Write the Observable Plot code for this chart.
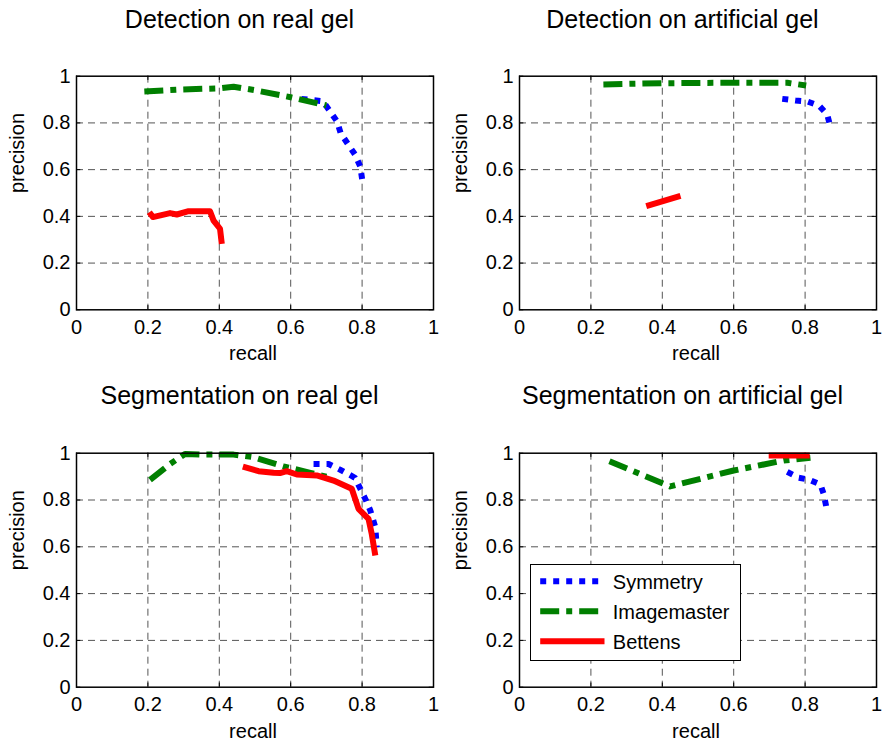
<!DOCTYPE html>
<html><head><meta charset="utf-8">
<script src="https://cdn.jsdelivr.net/npm/d3@7"></script>
<script src="https://cdn.jsdelivr.net/npm/@observablehq/plot@0.6"></script>
<style>
body{margin:0;background:#fff;}
#chart{position:relative;width:883px;height:742px;font-family:"Liberation Sans",Arial,Helvetica,sans-serif;background:#fff;}
#legend{position:absolute;left:530px;top:564px;width:211px;height:97px;box-sizing:border-box;border:1.5px solid #000;background:#fff;}
#legend svg{display:block;}
</style></head><body><div id="chart"></div>
<script>
// ---------- data ----------
const series = ["Symmetry", "Imagemaster", "Bettens"];
const seriesColors = ["#0000ff", "#007f00", "#ff0000"];
const seriesDash = ["6,7", "19,7,6,7", null];
const panelTitles = ["Detection on real gel", "Detection on artificial gel", "Segmentation on real gel", "Segmentation on artificial gel"];
const xLabel = "recall";
const yLabel = "precision";
const axisTicks = [0, 0.2, 0.4, 0.6, 0.8, 1];
const tickLabels = ["0", "0.2", "0.4", "0.6", "0.8", "1"];
const gridTicks = [0.2, 0.4, 0.6, 0.8];

// Detection on real gel
const detRealSymRecall = [0.63, 0.69, 0.71, 0.73, 0.74, 0.76, 0.78, 0.795, 0.80];
const detRealSymPrecision = [0.903, 0.893, 0.85, 0.806, 0.756, 0.71, 0.665, 0.613, 0.56];
const detRealImgRecall = [0.19, 0.29, 0.40, 0.44, 0.50, 0.60, 0.70];
const detRealImgPrecision = [0.935, 0.943, 0.948, 0.955, 0.94, 0.91, 0.875];
const detRealBetRecall = [0.204, 0.214, 0.262, 0.281, 0.314, 0.374, 0.384, 0.402, 0.407];
const detRealBetPrecision = [0.418, 0.397, 0.414, 0.408, 0.422, 0.422, 0.382, 0.347, 0.282];

// Detection on artificial gel
const detArtSymRecall = [0.736, 0.773, 0.806, 0.839, 0.862, 0.871];
const detArtSymPrecision = [0.903, 0.896, 0.892, 0.874, 0.836, 0.782];
const detArtImgRecall = [0.235, 0.40, 0.60, 0.75, 0.803];
const detArtImgPrecision = [0.965, 0.97, 0.972, 0.972, 0.96];
const detArtBetRecall = [0.355, 0.451];
const detArtBetPrecision = [0.444, 0.488];

// Segmentation on real gel
const segRealSymRecall = [0.664, 0.706, 0.738, 0.78, 0.795, 0.811, 0.823, 0.837, 0.841];
const segRealSymPrecision = [0.954, 0.954, 0.93, 0.895, 0.848, 0.798, 0.755, 0.684, 0.598];
const segRealImgRecall = [0.206, 0.262, 0.304, 0.346, 0.44, 0.496, 0.58, 0.655, 0.70];
const segRealImgPrecision = [0.886, 0.954, 0.997, 0.994, 0.994, 0.983, 0.944, 0.916, 0.90];
const segRealBetRecall = [0.466, 0.51, 0.552, 0.57, 0.589, 0.617, 0.673, 0.72, 0.771, 0.79, 0.818, 0.827, 0.837];
const segRealBetPrecision = [0.943, 0.923, 0.916, 0.915, 0.923, 0.909, 0.905, 0.883, 0.848, 0.762, 0.719, 0.655, 0.563];

// Segmentation on artificial gel
const segArtSymRecall = [0.75, 0.782, 0.81, 0.843, 0.852, 0.86];
const segArtSymPrecision = [0.92, 0.895, 0.887, 0.866, 0.826, 0.766];
const segArtImgRecall = [0.252, 0.422, 0.45, 0.60, 0.74, 0.815];
const segArtImgPrecision = [0.966, 0.858, 0.869, 0.926, 0.969, 0.98];
const segArtBetRecall = [0.698, 0.813];
const segArtBetPrecision = [0.99, 0.99];

// ---------- build ----------
const rows = (r, p) => d3.zip(r, p).map(([recall, precision]) => ({recall, precision}));
const panelData = [
  [rows(detRealSymRecall, detRealSymPrecision), rows(detRealImgRecall, detRealImgPrecision), rows(detRealBetRecall, detRealBetPrecision)],
  [rows(detArtSymRecall, detArtSymPrecision), rows(detArtImgRecall, detArtImgPrecision), rows(detArtBetRecall, detArtBetPrecision)],
  [rows(segRealSymRecall, segRealSymPrecision), rows(segRealImgRecall, segRealImgPrecision), rows(segRealBetRecall, segRealBetPrecision)],
  [rows(segArtSymRecall, segArtSymPrecision), rows(segArtImgRecall, segArtImgPrecision), rows(segArtBetRecall, segArtBetPrecision)]
];

const layout = [
  {left: 0,   top: 0,   width: 441, mL: 76, mR: 8, mT: 75.7, mB: 61.7, tdy: -47.7},
  {left: 441, top: 0,   width: 442, mL: 78, mR: 7, mT: 75.7, mB: 61.7, tdy: -47.7},
  {left: 0,   top: 371, width: 441, mL: 76, mR: 8, mT: 81.7, mB: 55.3, tdy: -49.4},
  {left: 441, top: 371, width: 442, mL: 78, mR: 7, mT: 81.7, mB: 55.3, tdy: -49.4}
];

const FONT = "Liberation Sans, Arial, Helvetica, sans-serif";
const chart = document.getElementById("chart");

layout.forEach((L, k) => {
  const lineMarks = panelData[k].map((data, s) => Plot.line(data, {
    x: "recall", y: "precision",
    stroke: seriesColors[s], strokeWidth: 6,
    strokeDasharray: seriesDash[s] ?? undefined,
    strokeLinecap: "butt", strokeLinejoin: "round"
  }));
  const svg = Plot.plot({
    width: L.width, height: 371,
    marginLeft: L.mL, marginRight: L.mR, marginTop: L.mT, marginBottom: L.mB,
    x: {domain: [0, 1]}, y: {domain: [0, 1]},
    style: {fontFamily: FONT, background: "transparent", color: "#000"},
    marks: [
      Plot.gridX(gridTicks, {stroke: "#555", strokeOpacity: 1, strokeWidth: 1, strokeDasharray: "7,5"}),
      Plot.gridY(gridTicks, {stroke: "#555", strokeOpacity: 1, strokeWidth: 1, strokeDasharray: "7,5"}),
      Plot.ruleX(axisTicks, {x: d => d, y1: 0, y2: 0.018, stroke: "#000"}),
      Plot.ruleX(axisTicks, {x: d => d, y1: 0.982, y2: 1, stroke: "#000"}),
      Plot.ruleY(axisTicks, {y: d => d, x1: 0, x2: 0.012, stroke: "#000"}),
      Plot.ruleY(axisTicks, {y: d => d, x1: 0.988, x2: 1, stroke: "#000"}),
      ...lineMarks,
      Plot.frame({stroke: "#000", strokeWidth: 1.5}),
      Plot.axisX(axisTicks, {tickSize: 0, tickPadding: 10, fontSize: 20, label: null, tickFormat: (d, i) => tickLabels[axisTicks.indexOf(d)], fill: "#000"}),
      Plot.axisY(axisTicks, {tickSize: 0, tickPadding: 6, fontSize: 20, label: null, tickFormat: (d, i) => tickLabels[axisTicks.indexOf(d)], fill: "#000"}),
      Plot.text([panelTitles[k]], {text: d => d, frameAnchor: "top", lineAnchor: "bottom", dx: -15.5, dy: L.tdy, fontSize: 25, fill: "#000"}),
      Plot.text([xLabel], {text: d => d, frameAnchor: "bottom", lineAnchor: "bottom", dx: -2, dy: 50.5, fontSize: 20, fill: "#000"}),
      Plot.text([yLabel], {text: d => d, frameAnchor: "left", lineAnchor: "bottom", rotate: -90, dx: -53, fontSize: 20, fill: "#000"})
    ]
  });
  svg.style.position = "absolute";
  svg.style.left = L.left + "px";
  svg.style.top = L.top + "px";
  svg.style.maxWidth = "none";
  chart.appendChild(svg);
});

// ---------- legend ----------
const legend = document.createElement("div");
legend.id = "legend";
chart.appendChild(legend);
const lsvg = d3.select(legend).append("svg").attr("width", 208).attr("height", 94);
const rowY = [16.2, 46.2, 76.2];
series.forEach((name, s) => {
  lsvg.append("line")
    .attr("x1", 9.2).attr("x2", 73.5).attr("y1", rowY[s]).attr("y2", rowY[s])
    .attr("stroke", seriesColors[s]).attr("stroke-width", 6)
    .attr("stroke-dasharray", seriesDash[s]).attr("stroke-linecap", "butt");
  lsvg.append("text")
    .attr("x", 81.8).attr("y", rowY[s] + 7.3)
    .attr("font-family", FONT).attr("font-size", 20).attr("fill", "#000")
    .text(name);
});
</script>
</body></html>
